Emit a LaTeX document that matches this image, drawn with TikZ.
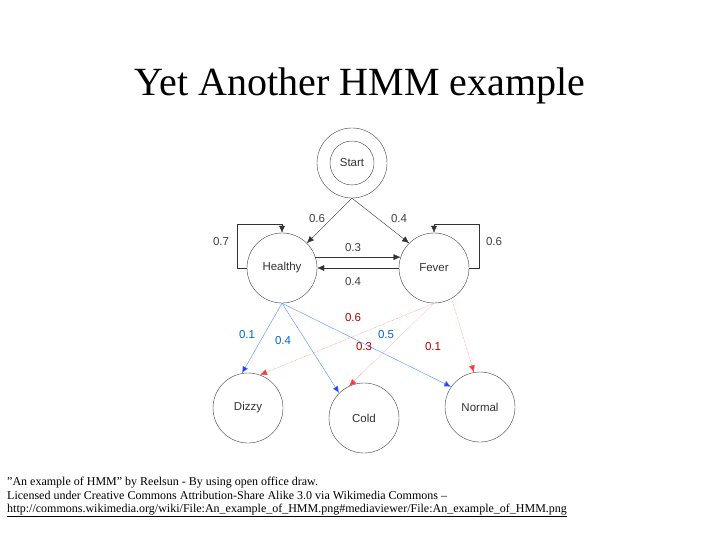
\documentclass[tikz,border=0pt]{standalone}
\usepackage{fontspec}
\usetikzlibrary{arrows.meta}
\setmainfont{Liberation Serif}
\newfontfamily\arialf{Liberation Sans}
\begin{document}
\begin{tikzpicture}[x=1pt,y=-1pt,
 st/.style={circle,draw=black!75,minimum size=70pt,inner sep=0pt,font=\arialf\fontsize{11.5}{13}\selectfont,text=black!80},
 ed/.style={draw=black!80,-{Latex[length=7pt,width=6pt]}},
 bl/.style={draw=blue!60!cyan!70,-{Latex[length=7pt,width=6pt,fill=blue!80]},thin},
 rd/.style={draw=red!70,-{Latex[length=7pt,width=6pt,fill=red!80,sep=0pt]},thin,densely dotted},
 lb/.style={font=\arialf\fontsize{11.5}{13}\selectfont,text=black!75},
 lbb/.style={font=\arialf\fontsize{11.5}{13}\selectfont,text=blue!50!cyan!80!black},
 lbr/.style={font=\arialf\fontsize{11.5}{13}\selectfont,text=red!70!black}]
\useasboundingbox (0,0) rectangle (720,540);
\node[font=\fontsize{40}{44}\selectfont] (title) at (360,86) {Yet Another HMM example};
\node[st] (start) at (352,163) {};
\node[circle,draw=black!75,minimum size=44pt,inner sep=0pt,font=\arialf\fontsize{11.5}{13}\selectfont,text=black!80] (si) at (352,163) {Start};
\node[st] (h) at (282,268) {Healthy};
\node[st] (f) at (434,268) {Fever};
\node[st] (d) at (248,408) {Dizzy};
\node[st] (c) at (364,418) {Cold};
\node[st] (n) at (480,407) {Normal};
\draw[ed] (start.south) -- (h.45);
\draw[ed] (start.south) -- (f.135);
\draw[ed] (h.18) -- (f.162);
\draw[ed] (f.180) -- (h.0);
\draw[ed] (h.west) -- ++(-10,0) |- (282,224) -- (h.north);
\draw[ed] (f.east) -- ++(10,0) |- (434,224) -- (f.north);
\draw[bl] (h.south) -- (d.100);
\draw[bl] (h.south) -- (c.135);
\draw[bl] (h.south) -- (n.145);
\draw[rd] (f.south) -- (d.70);
\draw[rd] (f.south) -- (c.115);
\draw[rd] (f.300) -- (n.100);
\node[lb] (l1) at (317,219) {0.6};
\node[lb] (l2) at (399,219) {0.4};
\node[lb] (l3) at (221,242) {0.7};
\node[lb] (l4) at (494,242) {0.6};
\node[lb] (l5) at (353,248) {0.3};
\node[lb] (l6) at (353,282) {0.4};
\node[lbb] (e1) at (247,335) {0.1};
\node[lbb] (e2) at (283,341) {0.4};
\node[lbb] (e3) at (386,335) {0.5};
\node[lbr] (e4) at (353,318) {0.6};
\node[lbr] (e5) at (364,347) {0.3};
\node[lbr] (e6) at (433,347) {0.1};
\node[anchor=north west,inner sep=0pt,align=left,font=\fontsize{12}{13.5}\selectfont] (cap) at (7,477)
{\symbol{34}An example of HMM\symbol{34} by Reelsun - By using open office draw.\\
Licensed under Creative Commons Attribution-Share Alike 3.0 via Wikimedia Commons --\\
\underline{http://commons.wikimedia.org/wiki/File:An\_example\_of\_HMM.png\#mediaviewer/File:An\_example\_of\_HMM.png}};
\end{tikzpicture}
\end{document}
